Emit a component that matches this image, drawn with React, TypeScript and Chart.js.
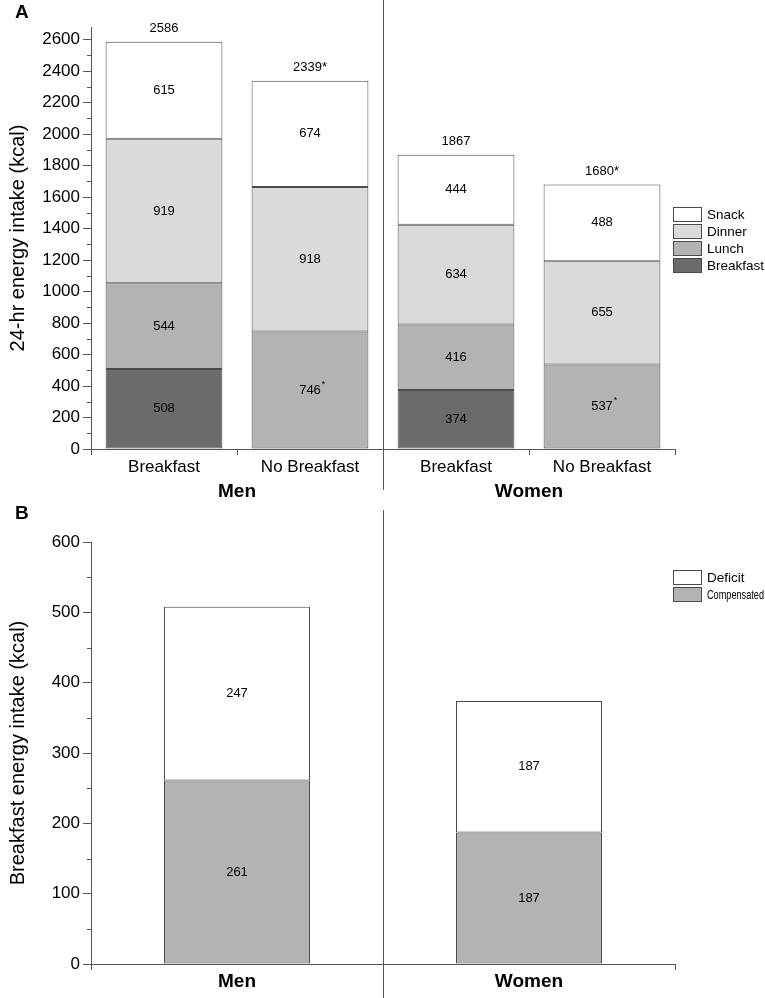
import React, { useEffect, useRef } from 'react';
import { Chart, registerables } from 'chart.js';

Chart.register(...registerables);

const FONT = "'Liberation Sans', Arial, Helvetica, sans-serif";

// ---------- Panel A data ----------
const categoriesA = ['Breakfast', 'No Breakfast', 'Breakfast', 'No Breakfast'];
const groupsA = ['Men', 'Women'];
const breakfastKcal = [508, null, 374, null];
const lunchKcal = [544, 746, 416, 537];
const dinnerKcal = [919, 918, 634, 655];
const snackKcal = [615, 674, 444, 488];
const totalLabelsA = ['2586', '2339*', '1867', '1680*'];
const lunchMarks = ['', '*', '', '*'];
const yTicksA = [0, 200, 400, 600, 800, 1000, 1200, 1400, 1600, 1800, 2000, 2200, 2400, 2600];
const yMaxA = 2680;

// ---------- Panel B data ----------
const categoriesB = ['Men', 'Women'];
const compensatedKcal = [261, 187];
const deficitKcal = [247, 187];
const yTicksB = [0, 100, 200, 300, 400, 500, 600];
const yMaxB = 600;

const AXIS = '#555555';
const BORDER = '#4a4a4a';

const decorPlugin = {
  id: 'decor',
  afterDraw(chart: any, _args: any, opts: any) {
    const ctx = chart.ctx as CanvasRenderingContext2D;
    const ca = chart.chartArea;
    const xs = chart.scales.x;
    const ys = chart.scales.y;
    ctx.save();

    // panel letter
    ctx.fillStyle = '#000';
    ctx.font = `bold 19px ${FONT}`;
    ctx.textAlign = 'left';
    ctx.textBaseline = 'middle';
    ctx.fillText(opts.letter, opts.letterX, opts.letterY);

    // group separator
    const sx = Math.round(xs.getPixelForValue(opts.sepIndex)) + 0.5;
    ctx.strokeStyle = AXIS;
    ctx.lineWidth = 1;
    ctx.beginPath();
    ctx.moveTo(sx, opts.sepTop);
    ctx.lineTo(sx, opts.sepBottom);
    ctx.stroke();

    // minor y ticks
    const t = ys.ticks;
    ctx.beginPath();
    for (let i = 0; i < t.length - 1; i++) {
      const v = (t[i].value + t[i + 1].value) / 2;
      const py = Math.round(ys.getPixelForValue(v)) + 0.5;
      ctx.moveTo(ca.left - 4, py);
      ctx.lineTo(ca.left, py);
    }
    ctx.stroke();

    // segment labels
    ctx.fillStyle = '#000';
    chart.data.datasets.forEach((ds: any, di: number) => {
      const meta = chart.getDatasetMeta(di);
      meta.data.forEach((el: any, i: number) => {
        const v = ds.data[i];
        if (v === null || v === undefined) return;
        const p = el.getProps(['x', 'y', 'base'], true);
        const cy = (p.y + p.base) / 2;
        const txt = String(v);
        ctx.font = `13px ${FONT}`;
        ctx.textAlign = 'center';
        ctx.textBaseline = 'middle';
        ctx.fillText(txt, p.x, cy);
        if (opts.marks && opts.marks.dataset === di && opts.marks.labels[i]) {
          const w = ctx.measureText(txt).width;
          ctx.font = `9px ${FONT}`;
          ctx.textAlign = 'left';
          ctx.fillText(opts.marks.labels[i], p.x + w / 2 + 1, cy - 6);
        }
      });
    });

    // totals above stacks
    if (opts.totals) {
      const topMeta = chart.getDatasetMeta(chart.data.datasets.length - 1);
      topMeta.data.forEach((el: any, i: number) => {
        const p = el.getProps(['x', 'y'], true);
        ctx.font = `13px ${FONT}`;
        ctx.textAlign = 'center';
        ctx.textBaseline = 'middle';
        ctx.fillText(opts.totals[i], p.x, p.y - 13);
      });
    }

    // legend
    const lg = opts.legend;
    if (lg) {
      lg.order.forEach((di: number, r: number) => {
        const ds = chart.data.datasets[di];
        const by = lg.y + r * lg.rowH;
        ctx.fillStyle = ds.backgroundColor;
        ctx.fillRect(lg.x, by, lg.boxW, lg.boxH);
        ctx.strokeStyle = BORDER;
        ctx.lineWidth = 1;
        ctx.strokeRect(lg.x + 0.5, by + 0.5, lg.boxW - 1, lg.boxH - 1);
        ctx.fillStyle = '#000';
        ctx.font = `${lg.fontSize}px ${FONT}`;
        ctx.textAlign = 'left';
        ctx.textBaseline = 'middle';
        const tx = lg.x + lg.boxW + 5;
        ctx.fillText(ds.label, tx, by + lg.boxH / 2 + 0.5, chart.width - tx - 1);
      });
    }

    ctx.restore();
  },
};

function barDataset(label: string, data: (number | null)[], color: string, pct: number) {
  return {
    label,
    data,
    backgroundColor: color,
    borderColor: BORDER,
    borderWidth: 1,
    borderSkipped: false as const,
    barPercentage: pct,
    categoryPercentage: 1,
    stack: 's',
  };
}

function yScale(ticks: number[], max: number, title: string) {
  return {
    type: 'linear' as const,
    stacked: true,
    min: 0,
    max,
    afterBuildTicks: (s: any) => {
      s.ticks = ticks.map((value) => ({ value }));
    },
    afterFit: (s: any) => {
      s.width = 91;
    },
    grid: { drawOnChartArea: false, drawTicks: true, tickLength: 8, color: AXIS, tickColor: AXIS },
    border: { display: true, color: AXIS, width: 1 },
    ticks: {
      font: { family: FONT, size: 17 },
      color: '#000',
      padding: 3,
      callback: (v: any) => String(v),
    },
    title: {
      display: true,
      text: title,
      font: { family: FONT, size: 20 },
      color: '#000',
      padding: { top: 6, bottom: 0 },
    },
  };
}

function PanelA() {
  const ref = useRef<HTMLCanvasElement | null>(null);
  useEffect(() => {
    if (!ref.current) return;
    const chart = new Chart(ref.current, {
      type: 'bar',
      data: {
        labels: categoriesA,
        datasets: [
          barDataset('Breakfast', breakfastKcal, '#6b6b6b', 0.8),
          barDataset('Lunch', lunchKcal, '#b3b3b3', 0.8),
          barDataset('Dinner', dinnerKcal, '#dadada', 0.8),
          barDataset('Snack', snackKcal, '#ffffff', 0.8),
        ],
      },
      options: {
        responsive: false,
        animation: false,
        devicePixelRatio: 1,
        layout: { padding: { left: 0, top: 27, right: 90, bottom: 3 } },
        plugins: {
          legend: { display: false },
          tooltip: { enabled: false },
          decor: {
            letter: 'A',
            letterX: 15,
            letterY: 13,
            sepIndex: 1.5,
            sepTop: 0,
            sepBottom: 490,
            marks: { dataset: 1, labels: lunchMarks },
            totals: totalLabelsA,
            legend: { x: 673, y: 207, rowH: 17, boxW: 29, boxH: 15, fontSize: 13.5, order: [3, 2, 1, 0] },
          },
        } as any,
        scales: {
          x: {
            type: 'category',
            stacked: true,
            offset: true,
            weight: 0,
            afterFit: (s: any) => {
              s.height = 31;
            },
            grid: { display: true, offset: true, drawOnChartArea: false, drawTicks: true, tickLength: 6, color: AXIS, tickColor: AXIS },
            border: { display: true, color: AXIS, width: 1 },
            ticks: { font: { family: FONT, size: 17 }, color: '#000', padding: 2, maxRotation: 0, autoSkip: false },
          },
          x2: {
            type: 'category',
            labels: groupsA,
            position: 'bottom',
            offset: true,
            weight: 1,
            afterFit: (s: any) => {
              s.height = 22;
            },
            grid: { display: false, drawTicks: false },
            border: { display: false },
            ticks: { font: { family: FONT, size: 19, weight: 'bold' }, color: '#000', padding: 0, maxRotation: 0 },
          },
          y: yScale(yTicksA, yMaxA, '24-hr energy intake (kcal)'),
        } as any,
      },
      plugins: [decorPlugin],
    });
    return () => chart.destroy();
  }, []);
  return (
    <canvas
      ref={ref}
      width={765}
      height={505}
      style={{ position: 'absolute', left: 0, top: 0, width: 765, height: 505, display: 'block' }}
    />
  );
}

function PanelB() {
  const ref = useRef<HTMLCanvasElement | null>(null);
  useEffect(() => {
    if (!ref.current) return;
    const chart = new Chart(ref.current, {
      type: 'bar',
      data: {
        labels: categoriesB,
        datasets: [
          barDataset('Compensated', compensatedKcal, '#b3b3b3', 0.5),
          barDataset('Deficit', deficitKcal, '#ffffff', 0.5),
        ],
      },
      options: {
        responsive: false,
        animation: false,
        devicePixelRatio: 1,
        layout: { padding: { left: 0, top: 37, right: 90, bottom: 4 } },
        plugins: {
          legend: { display: false },
          tooltip: { enabled: false },
          decor: {
            letter: 'B',
            letterX: 15,
            letterY: 9,
            sepIndex: 0.5,
            sepTop: 5,
            sepBottom: 493,
            legend: { x: 673, y: 65, rowH: 17, boxW: 29, boxH: 15, fontSize: 13.5, order: [1, 0] },
          },
        } as any,
        scales: {
          x: {
            type: 'category',
            stacked: true,
            offset: true,
            afterFit: (s: any) => {
              s.height = 30;
            },
            grid: { display: true, offset: true, drawOnChartArea: false, drawTicks: true, tickLength: 6, color: AXIS, tickColor: AXIS },
            border: { display: true, color: AXIS, width: 1 },
            ticks: { font: { family: FONT, size: 19, weight: 'bold' }, color: '#000', padding: 0, maxRotation: 0, autoSkip: false },
          },
          y: yScale(yTicksB, yMaxB, 'Breakfast energy intake (kcal)'),
        } as any,
      },
      plugins: [decorPlugin],
    });
    return () => chart.destroy();
  }, []);
  return (
    <canvas
      ref={ref}
      width={765}
      height={493}
      style={{ position: 'absolute', left: 0, top: 505, width: 765, height: 493, display: 'block' }}
    />
  );
}

export default function App() {
  return (
    <div style={{ position: 'absolute', left: 0, top: 0, width: 765, height: 998, background: '#fff', overflow: 'hidden' }}>
      <PanelA />
      <PanelB />
    </div>
  );
}
